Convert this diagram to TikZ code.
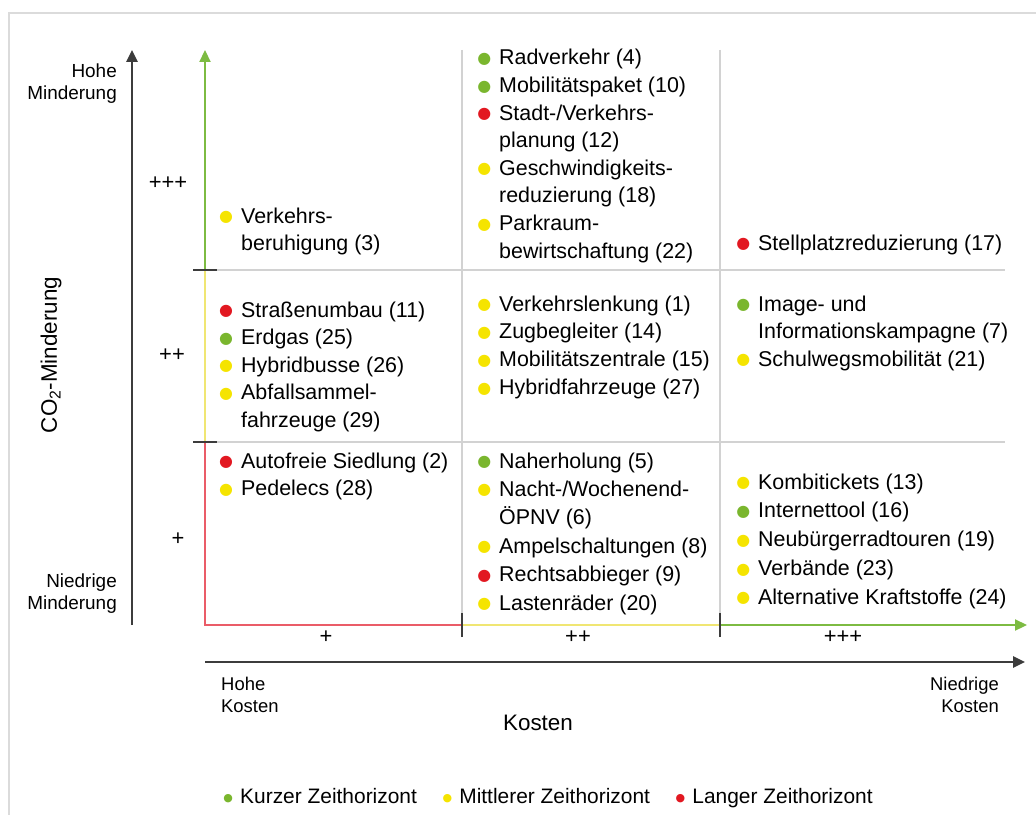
\documentclass[tikz,border=0pt]{standalone}
\usepackage{fontspec}
\setmainfont{Liberation Sans}
\newfontfamily\dotfont{DejaVu Sans}
\usetikzlibrary{arrows.meta,positioning}
\definecolor{kzgreen}{RGB}{122,182,46}
\definecolor{kzyellow}{RGB}{245,228,0}
\definecolor{kzred}{RGB}{226,24,33}
\definecolor{axgreen}{RGB}{125,187,66}
\definecolor{axyellow}{RGB}{240,230,115}
\definecolor{axred}{RGB}{234,92,104}
\definecolor{gridgray}{RGB}{210,210,210}
\definecolor{axdark}{RGB}{60,60,60}
\newcommand{\pkt}[1]{\makebox[30bp][c]{\raisebox{1.5bp}{\dotfont\fontsize{16}{16}\selectfont\textcolor{#1}{●}}}}
\newcommand{\lpkt}[1]{\makebox[24bp][c]{\raisebox{2bp}{\dotfont\fontsize{11}{11}\selectfont\textcolor{#1}{●}}}}

\begin{document}
\begin{tikzpicture}[x=1bp,y=-1bp,>={Triangle[length=12bp,width=11bp]},
    cell/.style={anchor=base west,inner sep=0pt,font=\fontsize{21.5}{27.7}\selectfont},
    axlabel/.style={inner sep=0pt,font=\fontsize{19}{22}\selectfont},
    tick/.style={inner sep=0pt,font=\fontsize{22}{22}\selectfont},
    legend/.style={inner sep=0pt,anchor=base west,font=\fontsize{21}{21}\selectfont},
    gridline/.style={draw=gridgray,line width=1.4bp},
    axis/.style={line width=2.2bp}]
  \useasboundingbox (0,0) rectangle (1036,815);
  \draw[gridgray!80,line width=1.6bp] (9,815) -- (9,13) -- (1036,13);

  \coordinate (o) at (205,625);
  \coordinate (y1) at (205,442); \coordinate (y2) at (205,270); \coordinate (ytop) at (205,50);
  \coordinate (x1) at (462,625); \coordinate (x2) at (720,625); \coordinate (xend) at (1027,625);
  \coordinate (g1) at (462,50); \coordinate (g2) at (720,50);
  \coordinate (h1) at (1005,270); \coordinate (h2) at (1005,442);

  \draw[gridline] (g1) -- (x1); \draw[gridline] (g2) -- (x2);
  \draw[gridline] ([xshift=12bp]y2) -- (h1); \draw[gridline] ([xshift=12bp]y1) -- (h2);

  \draw[axis,axred] (y1) -- (o) -- (x1);
  \draw[axis,axyellow] (y2) -- (y1); \draw[axis,axyellow] (x1) -- (x2);
  \draw[axis,axgreen,->] (y2) -- (ytop);
  \draw[axis,axgreen,->] (x2) -- (xend);
  \draw[axdark,line width=1.8bp] ([xshift=-12bp]y2) -- ([xshift=12bp]y2);
  \draw[axdark,line width=1.8bp] ([xshift=-12bp]y1) -- ([xshift=12bp]y1);
  \draw[axdark,line width=1.8bp] ([yshift=-12bp]x1) -- ([yshift=12bp]x1);
  \draw[axdark,line width=1.8bp] ([yshift=-12bp]x2) -- ([yshift=12bp]x2);

  \coordinate (ya) at (132,625); \coordinate (yb) at (132,50);
  \coordinate (xa) at (205,662); \coordinate (xb) at (1025,662);
  \draw[axdark,line width=2.5bp,->] (ya) -- (yb);
  \draw[axdark,line width=2.5bp,->] (xa) -- (xb);

  \node[tick] (t1) at (168,183) {+++};
  \node[tick] (t2) at (172,355) {++};
  \node[tick] (t3) at (178,539) {+};
  \node[tick] (k1) at (326,637) {+};
  \node[tick] (k2) at (578,637) {++};
  \node[tick] (k3) at (843,637) {+++};

  \node[axlabel,anchor=north east,align=right] (hm) at (117,64) {Hohe\\Minderung};
  \node[axlabel,anchor=north east,align=right] (nm) at (117,574) {Niedrige\\Minderung};
  \node[inner sep=0pt,rotate=90,font=\fontsize{22.5}{22.5}\selectfont] (co) at (51,355) {CO\textsubscript{2}-Minderung};
  \node[axlabel,font=\fontsize{18.5}{22}\selectfont,anchor=north west,align=left] (hk) at (221,677) {Hohe\\Kosten};
  \node[axlabel,font=\fontsize{18.5}{22}\selectfont,anchor=north east,align=right] (nk) at (999,677) {Niedrige\\Kosten};
  \node[inner sep=0pt,anchor=base,font=\fontsize{22.5}{22.5}\selectfont] (ko) at (538,730) {Kosten};

  \node[cell] (c11) at (211,223) {\begin{tabular}[t]{@{}l@{}l@{}}
    \pkt{kzyellow}&Verkehrs-\\ &beruhigung (3)\end{tabular}};
  \node[cell] (c21) at (469,65) {\begin{tabular}[t]{@{}l@{}l@{}}
    \pkt{kzgreen}&Radverkehr (4)\\
    \pkt{kzgreen}&Mobilitätspaket (10)\\
    \pkt{kzred}&Stadt-/Verkehrs-\\ &planung (12)\\
    \pkt{kzyellow}&Geschwindigkeits-\\ &reduzierung (18)\\
    \pkt{kzyellow}&Parkraum-\\ &bewirtschaftung (22)\end{tabular}};
  \node[cell] (c31) at (728,250) {\begin{tabular}[t]{@{}l@{}l@{}}
    \pkt{kzred}&Stellplatzreduzierung (17)\end{tabular}};

  \node[cell] (c12) at (211,317) {\begin{tabular}[t]{@{}l@{}l@{}}
    \pkt{kzred}&Straßenumbau (11)\\
    \pkt{kzgreen}&Erdgas (25)\\
    \pkt{kzyellow}&Hybridbusse (26)\\
    \pkt{kzyellow}&Abfallsammel-\\ &fahrzeuge (29)\end{tabular}};
  \node[cell] (c22) at (469,311) {\renewcommand{\arraystretch}{1.01}\begin{tabular}[t]{@{}l@{}l@{}}
    \pkt{kzyellow}&Verkehrslenkung (1)\\
    \pkt{kzyellow}&Zugbegleiter (14)\\
    \pkt{kzyellow}&Mobilitätszentrale (15)\\
    \pkt{kzyellow}&Hybridfahrzeuge (27)\end{tabular}};
  \node[cell] (c32) at (728,311) {\begin{tabular}[t]{@{}l@{}l@{}}
    \pkt{kzgreen}&Image- und\\ &Informationskampagne (7)\\
    \pkt{kzyellow}&Schulwegsmobilität (21)\end{tabular}};

  \node[cell] (c13) at (211,468) {\begin{tabular}[t]{@{}l@{}l@{}}
    \pkt{kzred}&Autofreie Siedlung (2)\\
    \pkt{kzyellow}&Pedelecs (28)\end{tabular}};
  \node[cell] (c23) at (469,468) {\renewcommand{\arraystretch}{1.03}\begin{tabular}[t]{@{}l@{}l@{}}
    \pkt{kzgreen}&Naherholung (5)\\
    \pkt{kzyellow}&Nacht-/Wochenend-\\ &ÖPNV (6)\\
    \pkt{kzyellow}&Ampelschaltungen (8)\\
    \pkt{kzred}&Rechtsabbieger (9)\\
    \pkt{kzyellow}&Lastenräder (20)\end{tabular}};
  \node[cell] (c33) at (728,489) {\renewcommand{\arraystretch}{1.045}\begin{tabular}[t]{@{}l@{}l@{}}
    \pkt{kzyellow}&Kombitickets (13)\\
    \pkt{kzgreen}&Internettool (16)\\
    \pkt{kzyellow}&Neubürgerradtouren (19)\\
    \pkt{kzyellow}&Verbände (23)\\
    \pkt{kzyellow}&Alternative Kraftstoffe (24)\end{tabular}};

  \node[legend] (lg1) at (216,803) {\lpkt{kzgreen}Kurzer Zeithorizont};
  \node[legend] (lg2) at ([xshift=18bp]lg1.base east) {\lpkt{kzyellow}Mittlerer Zeithorizont};
  \node[legend] (lg3) at ([xshift=18bp]lg2.base east) {\lpkt{kzred}Langer Zeithorizont};
\end{tikzpicture}
\end{document}
